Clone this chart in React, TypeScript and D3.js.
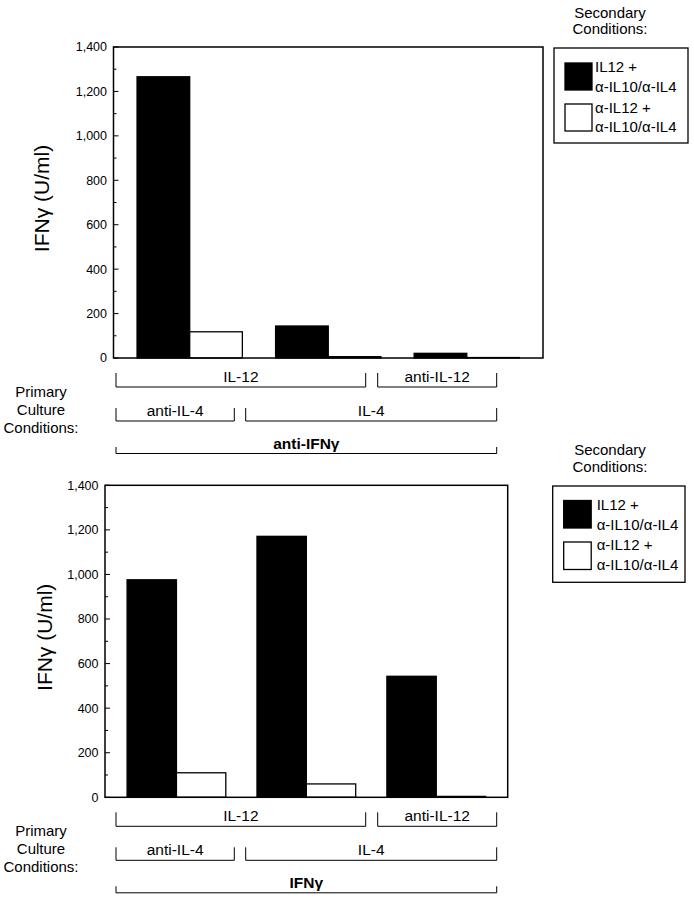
import React from "react";
import * as d3 from "d3";

const groups = ["anti-IL-4 / IL-12", "IL-4 / IL-12", "IL-4 / anti-IL-12"];
const seriesKeys = ["IL12 + α-IL10/α-IL4", "α-IL12 + α-IL10/α-IL4"];
const seriesFill = ["#000", "#fff"];
const legendLines = [["IL12 +", "α-IL10/α-IL4"], ["α-IL12 +", "α-IL10/α-IL4"]];

const topBlack = [1266, 144, 21];
const topWhite = [118, 6, 2];
const bottomBlack = [976, 1171, 543];
const bottomWhite = [110, 60, 4];

const yTicks = [0, 200, 400, 600, 800, 1000, 1200, 1400];
const yMinorTicks = [100, 300, 500, 700, 900, 1100, 1300];

const bracketRows = [
  [{ label: "IL-12", x0: 116, x1: 365.7 }, { label: "anti-IL-12", x0: 377.7, x1: 496.7 }],
  [{ label: "anti-IL-4", x0: 116, x1: 234.3 }, { label: "IL-4", x0: 245.7, x1: 496.7 }],
];
const FONT = "'Liberation Sans', Arial, Helvetica, sans-serif";

type PanelProps = {
  left: number; right: number; top: number; bottom: number;
  black: number[]; white: number[];
  legend: { x0: number; x1: number; y0: number; y1: number; sw: number; tx: number; base: number[]; swY: number[]; headBase: number[]; headX: number };
  bottomLabel: string;
  labelX: number;
};

function Panel(p: PanelProps) {
  const x = d3.scaleBand<string>().domain(groups).range([p.left, p.right]).paddingInner(0.24).paddingOuter(0.17);
  const xs = d3.scaleBand<string>().domain(seriesKeys).range([0, x.bandwidth()]).padding(0);
  const y = d3.scaleLinear().domain([0, 1400]).range([p.bottom, p.top]);
  const fmt = d3.format(",");
  const vals = [p.black, p.white];
  const rowLine = [p.bottom + 29, p.bottom + 63, p.bottom + 95.5];
  const rowTickTop = [p.bottom + 15, p.bottom + 50, p.bottom + 89];
  const rowText = [p.bottom + 24, p.bottom + 57.5, p.bottom + 90.5];
  const L = p.legend;
  return (
    <g fontFamily={FONT}>
      {groups.map((g, gi) =>
        seriesKeys.map((s, si) => (
          <rect key={g + s} x={(x(g) as number) + (xs(s) as number)} y={y(vals[si][gi])}
            width={xs.bandwidth()} height={y(0) - y(vals[si][gi])}
            fill={seriesFill[si]} stroke="#000" strokeWidth={1.3} />
        ))
      )}
      <rect x={p.left} y={p.top} width={p.right - p.left} height={p.bottom - p.top} fill="none" stroke="#000" strokeWidth={1.5} />
      {yTicks.map((t) => (
        <g key={t}>
          <line x1={p.left} x2={p.left + 5} y1={y(t)} y2={y(t)} stroke="#000" strokeWidth={1} />
          <text x={p.left - 6.5} y={y(t)} dy="0.35em" textAnchor="end" fontSize={12.5}>{fmt(t)}</text>
        </g>
      ))}
      {yMinorTicks.map((t) => (
        <line key={t} x1={p.left} x2={p.left + 3} y1={y(t)} y2={y(t)} stroke="#000" strokeWidth={1} />
      ))}
      <text transform={`translate(${p.labelX},${(p.top + p.bottom) / 2 - 4}) rotate(-90)`} textAnchor="middle" dy="0.35em" fontSize={21}>
        IFNγ (U/ml)
      </text>
      {bracketRows.map((row, ri) =>
        row.map((b) => (
          <g key={b.label + ri}>
            <path d={`M${b.x0},${rowTickTop[ri]}V${rowLine[ri]}H${b.x1}V${rowTickTop[ri]}`} fill="none" stroke="#000" strokeWidth={1} />
            <text x={(b.x0 + b.x1) / 2} y={rowText[ri]} textAnchor="middle" fontSize={15.5}>{b.label}</text>
          </g>
        ))
      )}
      <path d={`M116,${rowTickTop[2]}V${rowLine[2]}H496.7V${rowTickTop[2]}`} fill="none" stroke="#000" strokeWidth={1} />
      <text x={(116 + 496.7) / 2} y={rowText[2]} textAnchor="middle" fontSize={15.5} fontWeight="bold">{p.bottomLabel}</text>
      {["Primary", "Culture", "Conditions:"].map((t, i) => (
        <text key={t} x={41} y={p.bottom + 39 + i * 18} textAnchor="middle" fontSize={15}>{t}</text>
      ))}
      {["Secondary", "Conditions:"].map((t, i) => (
        <text key={t} x={L.headX} y={L.headBase[i]} textAnchor="middle" fontSize={15}>{t}</text>
      ))}
      <rect x={L.x0} y={L.y0} width={L.x1 - L.x0} height={L.y1 - L.y0} fill="#fff" stroke="#000" strokeWidth={1.3} />
      {seriesKeys.map((s, si) => (
        <g key={s}>
          <rect x={L.x0 + 11} y={L.swY[si]} width={L.sw} height={L.sw} fill={seriesFill[si]} stroke="#000" strokeWidth={1.3} />
          {legendLines[si].map((t, li) => (
            <text key={li} x={L.tx} y={L.base[si * 2 + li]} fontSize={15}>{t}</text>
          ))}
        </g>
      ))}
    </g>
  );
}

export default function App() {
  return (
    <svg width={694} height={899} style={{ position: "absolute", left: 0, top: 0, background: "#fff" }}>
      <rect width={694} height={899} fill="#fff" />
      <Panel left={113.5} right={543} top={47} bottom={358} black={topBlack} white={topWhite}
        labelX={42} bottomLabel="anti-IFNγ"
        legend={{ x0: 554, x1: 688, y0: 48, y1: 143, sw: 27, tx: 595, base: [72, 92, 113, 132], swY: [63, 104], headBase: [18, 34], headX: 610 }} />
      <Panel left={105} right={507.7} top={485.3} bottom={797.3} black={bottomBlack} white={bottomWhite}
        labelX={45} bottomLabel="IFNγ"
        legend={{ x0: 552.7, x1: 685, y0: 486, y1: 582.3, sw: 27.5, tx: 596.7, base: [510, 530, 550, 570], swY: [500.5, 542], headBase: [455, 471.7], headX: 610 }} />
    </svg>
  );
}
